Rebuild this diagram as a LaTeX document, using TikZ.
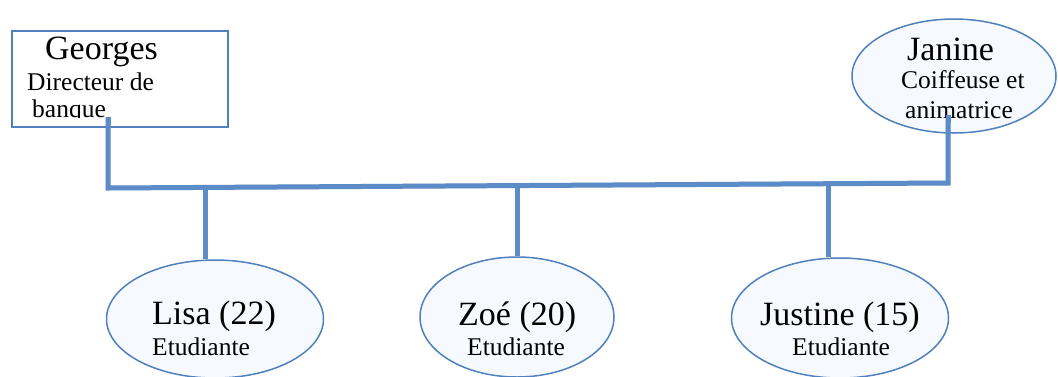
\documentclass[tikz,border=0pt]{standalone}
\usepackage{fontspec}
\setmainfont{Liberation Serif}
\usetikzlibrary{shapes.geometric}
\definecolor{famblue}{RGB}{92,140,200}
\definecolor{famedge}{RGB}{80,128,190}
\definecolor{famfill}{RGB}{246,249,253}
\tikzset{
  person/.style={ellipse, draw=famedge, line width=1.5pt, fill=famfill, inner sep=0pt},
  parentbox/.style={rectangle, draw=famedge, line width=2pt, fill=white, inner sep=0pt},
  link/.style={draw=famblue, line width=5pt},
  linkshadow/.style={draw=black!35, line width=5pt, opacity=0.35},
  big/.style={anchor=base west, inner sep=0pt, font=\fontsize{34}{36}\selectfont},
  small/.style={anchor=base west, inner sep=0pt, font=\fontsize{25.5}{28}\selectfont},
}
\begin{document}
\begin{tikzpicture}[x=1pt,y=-1pt]
\useasboundingbox (0,0) rectangle (1058,376);

% junction points on the family bar
\coordinate (barL) at (108,188);
\coordinate (barR) at (948,183);
\coordinate (gTop) at (108,117);
\coordinate (jTop) at (948,115);
\coordinate (lTop) at (205,{188-5*(205-108)/840});
\coordinate (zTop) at (517,{188-5*(517-108)/840});
\coordinate (sTop) at (828,{188-5*(828-108)/840});

% shape nodes
\node[parentbox, minimum width=216pt, minimum height=96pt] (georges) at (120,79) {};
\node[person, minimum width=204pt, minimum height=114pt] (janine) at (954,76) {};
\node[person, minimum width=217pt, minimum height=118pt] (lisa) at (215,319) {};
\node[person, minimum width=194pt, minimum height=120pt] (zoe) at (517,317) {};
\node[person, minimum width=217pt, minimum height=120pt] (justine) at (840,318) {};

% connector shadows
\begin{scope}[shift={(2,2.5)}]
\draw[linkshadow] (gTop) -- (barL) -- (barR) -- (jTop);
\draw[linkshadow] (lTop) -- (lTop |- lisa.north);
\draw[linkshadow] (zTop) -- (zTop |- zoe.north);
\draw[linkshadow] (sTop) -- (sTop |- justine.north);
\end{scope}

% connectors
\draw[link, line join=miter] (gTop) -- (barL) -- (barR) -- (jTop);
\draw[link] (lTop) -- (lTop |- lisa.north);
\draw[link] (zTop) -- (zTop |- zoe.north);
\draw[link] (sTop) -- (sTop |- justine.north);

% texts
\node[big] (tGeorges) at (45,59) {Georges};
\node[small] (tDir) at (27,90) {Directeur de};
\begin{scope}
\clip (14,95) rectangle (226,117);
\node[small] (tBanque) at (32,117) {banque};
\end{scope}

\node[big] (tJanine) at (907,60) {Janine};
\node[small] (tCoif) at (901,88) {Coiffeuse et};
\node[small] (tAnim) at (905,118) {animatrice};

\node[big] (tLisa) at (152,324) {Lisa (22)};
\node[small] (tLisaJ) at (152,355) {Etudiante};

\node[big] (tZoe) at (458,325) {Zoé (20)};
\node[small] (tZoeJ) at (467,355) {Etudiante};

\node[big] (tJustine) at (760,325) {Justine (15)};
\node[small] (tJustineJ) at (792,355) {Etudiante};

% connector ends drawn over the box and ellipse texts
\draw[link] (gTop) -- ++(0,8);
\draw[link] (jTop) -- ++(0,8);
\end{tikzpicture}
\end{document}
